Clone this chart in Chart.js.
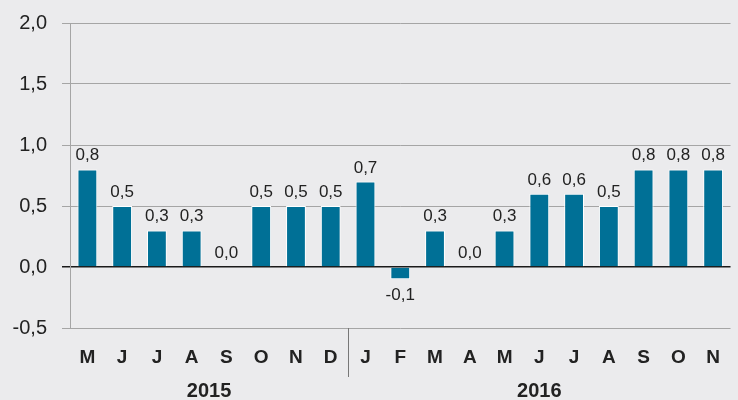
<!DOCTYPE html>
<html>
<head>
<meta charset="utf-8">
<script src="https://cdn.jsdelivr.net/npm/chart.js@4.4.1/dist/chart.umd.min.js"></script>
<style>
    html, body { margin: 0; padding: 0; background: #ebebed; }
    #wrap { width: 738px; height: 400px; }
</style>
</head>
<body>
<div id="wrap"><canvas id="chart" width="738" height="400"></canvas></div>
<script>
const months = ["M", "J", "J", "A", "S", "O", "N", "D", "J", "F", "M", "A", "M", "J", "J", "A", "S", "O", "N"];
const values = [0.8, 0.5, 0.3, 0.3, 0.0, 0.5, 0.5, 0.5, 0.7, -0.1, 0.3, 0.0, 0.3, 0.6, 0.6, 0.5, 0.8, 0.8, 0.8];
const years = ["2015", "2016"];
const yearStart = [0, 8];   // index of first month of each year
const yearEnd = [7, 18];
const yTicks = [-0.5, 0, 0.5, 1.0, 1.5, 2.0];

const fmt = v => v.toFixed(1).replace(".", ",");
const fontFamily = "'Liberation Sans', Arial, Helvetica, sans-serif";

// labels on bars, year labels and the year separator
const extras = {
    id: "extras",
    afterDatasetsDraw(chart) {
        const ctx = chart.ctx;
        const x = chart.scales.x;
        const y = chart.scales.y;
        const meta = chart.getDatasetMeta(0);

        ctx.save();
        ctx.fillStyle = "#222";
        ctx.font = "17px " + fontFamily;
        ctx.textAlign = "center";
        ctx.textBaseline = "alphabetic";
        meta.data.forEach((bar, i) => {
            const v = values[i];
            if (v < 0) {
                ctx.fillText(fmt(v), bar.x, bar.y + 21);
            } else {
                ctx.fillText(fmt(v), bar.x, bar.y - 9);
            }
        });

        ctx.font = "bold 20px " + fontFamily;
        years.forEach((yr, i) => {
            const cx = (x.getPixelForValue(yearStart[i]) + x.getPixelForValue(yearEnd[i])) / 2;
            ctx.fillText(yr, cx, 397);
        });

        // separator between the two years
        const sx = Math.round((x.getPixelForValue(yearEnd[0]) + x.getPixelForValue(yearStart[1])) / 2) + 0.5;
        ctx.strokeStyle = "#777";
        ctx.lineWidth = 1;
        ctx.beginPath();
        ctx.moveTo(sx, y.bottom);
        ctx.lineTo(sx, y.bottom + 49);
        ctx.stroke();
        ctx.restore();
    }
};

new Chart(document.getElementById("chart"), {
    type: "bar",
    data: {
        labels: months,
        datasets: [{
            data: values,
            backgroundColor: "#007096",
            borderColor: "#ffffff",
            borderWidth: 1,
            borderSkipped: "bottom",
            categoryPercentage: 1,
            barPercentage: 0.57
        }]
    },
    options: {
        responsive: false,
        animation: false,
        layout: { padding: 0 },
        plugins: {
            legend: { display: false },
            tooltip: { enabled: false }
        },
        scales: {
            x: {
                grid: { display: false, drawTicks: false },
                border: { display: false },
                ticks: {
                    color: "#222",
                    padding: 18,
                    font: { family: fontFamily, size: 19, weight: "bold" },
                    maxRotation: 0,
                    autoSkip: false
                },
                afterFit(scale) { scale.height = 72; }
            },
            y: {
                min: -0.5,
                max: 2.0,
                afterBuildTicks(scale) { scale.ticks = yTicks.map(v => ({ value: v })); },
                grid: {
                    color: ctx => ctx.tick && ctx.tick.value === 0 ? "#1a1a1a" : "#a5a5a5",
                    lineWidth: ctx => ctx.tick && ctx.tick.value === 0 ? 1.5 : 1,
                    tickLength: 8
                },
                border: { display: true, color: "#a5a5a5" },
                ticks: {
                    color: "#222",
                    padding: 15,
                    font: { family: fontFamily, size: 20 },
                    callback: v => fmt(v)
                },
                afterFit(scale) {
                    scale.width = 70;
                    scale.paddingTop = 23;
                }
            }
        }
    },
    plugins: [extras]
});
</script>
</body>
</html>
